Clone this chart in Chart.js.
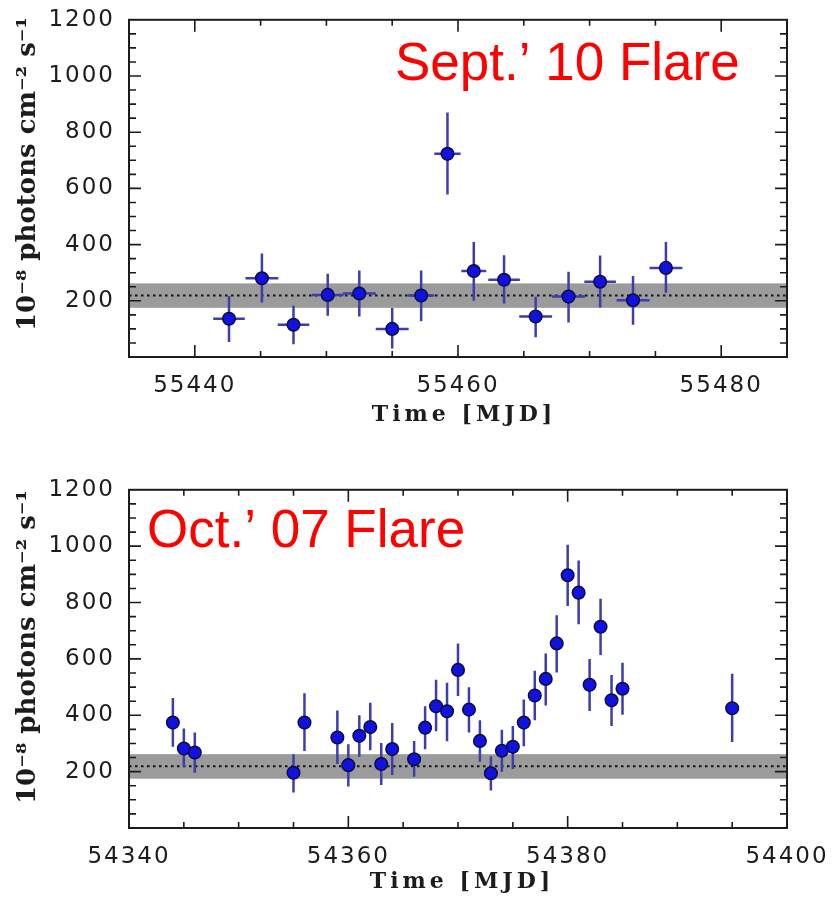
<!DOCTYPE html>
<html>
<head>
<meta charset="utf-8">
<title>Gamma-ray flare light curves</title>
<script src="https://cdn.jsdelivr.net/npm/chart.js@4.4.1/dist/chart.umd.min.js"></script>
<style>
  html, body { margin: 0; padding: 0; background: #fff; }
  #wrap { position: relative; width: 832px; height: 897px; overflow: hidden; }
  .panel { position: absolute; left: 0; width: 832px; }
  #panel-sep { top: 0; height: 440px; }
  #panel-oct { top: 470px; height: 427px; }
</style>
</head>
<body>
<div id="wrap">
  <div class="panel" id="panel-sep"><canvas id="chart-sep"></canvas></div>
  <div class="panel" id="panel-oct"><canvas id="chart-oct"></canvas></div>
</div>
<script>
'use strict';

/* ---- Sept. 2010 flare (binned): centre MJD, flux, error range, bin half-width ---- */
const SEP_MJD  = [55442.6, 55445.1, 55447.5, 55450.1, 55452.5, 55455.0, 55457.2, 55459.2,
                  55461.2, 55463.5, 55465.9, 55468.4, 55470.8, 55473.3, 55475.8];
const SEP_FLUX = [136, 280, 115, 221, 226, 100, 219, 723, 306, 275, 144, 215, 268, 202, 317];
const SEP_LO   = [53, 194, 45, 147, 144, 30, 127, 578, 200, 190, 70, 123, 176, 115, 229];
const SEP_HI   = [217, 368, 182, 296, 308, 174, 308, 870, 409, 362, 214, 303, 361, 288, 409];
const SEP_HALF = [1.2, 1.25, 1.2, 1.2, 1.25, 1.25, 1.0, 1.0, 0.95, 1.2, 1.25, 1.25, 1.2, 1.25, 1.25];
const SEP_X_TICKS = [55440, 55460, 55480];

/* ---- Oct. 2007 flare (daily) ---- */
const OCT_MJD  = [54344, 54345, 54346, 54355, 54356, 54359, 54360, 54361, 54362, 54363, 54364,
                  54366, 54367, 54368, 54369, 54370, 54371, 54372, 54373, 54374, 54375, 54376,
                  54377, 54378, 54379, 54380, 54381, 54382, 54383, 54384, 54385, 54395];
const OCT_FLUX = [374, 282, 268, 196, 374, 321, 223, 327, 358, 227, 280,
                  244, 356, 432, 414, 561, 420, 309, 194, 274, 288, 374,
                  470, 529, 655, 897, 835, 508, 714, 453, 494, 425];
const OCT_LO   = [288, 217, 196, 126, 273, 227, 147, 253, 276, 153, 188,
                  182, 279, 343, 308, 468, 339, 235, 133, 200, 209, 290,
                  382, 435, 552, 788, 723, 415, 614, 362, 402, 305];
const OCT_HI   = [461, 353, 339, 262, 478, 417, 297, 400, 444, 302, 373,
                  309, 432, 526, 515, 655, 499, 382, 255, 349, 362, 456,
                  558, 619, 755, 1005, 949, 600, 813, 543, 586, 547];
const OCT_X_TICKS = [54340, 54360, 54380, 54400];

/* quiescent level shared by both panels */
const QUIET_BAND = [175, 262];
const QUIET_MEAN = 219;
const Y_TICKS = [200, 400, 600, 800, 1000, 1200];

const INK = '#1c1c1c';
const POINT_FILL = '#1212e0';
const POINT_EDGE = '#0c0c40';
const ERR_COLOR = '#3d3dab';
const BAND_COLOR = '#9b9b9b';
const FLARE_RED = '#ff0000';

const TICK_FONT = { family: '"DejaVu Sans", sans-serif', size: 23 };
const TITLE_FONT = 'bold 22px "DejaVu Serif", serif';
const YTITLE_FONT = 'bold 26px "DejaVu Serif", serif';
const FLARE_FONT = '53px "Liberation Sans", Arial, sans-serif';

/* band, dotted mean, error bars, inward ticks, frame and annotations */
function lightCurvePlugin(d) {
  return {
    id: 'lightCurve',
    beforeDraw(chart) {
      chart.ctx.letterSpacing = '2px';
    },
    beforeDatasetsDraw(chart) {
      const { ctx, chartArea: a, scales: { x, y } } = chart;
      ctx.save();
      const yTop = y.getPixelForValue(QUIET_BAND[1]);
      const yBot = y.getPixelForValue(QUIET_BAND[0]);
      ctx.fillStyle = BAND_COLOR;
      ctx.fillRect(a.left, yTop, a.right - a.left, yBot - yTop);

      const ym = y.getPixelForValue(QUIET_MEAN);
      ctx.strokeStyle = '#111';
      ctx.lineWidth = 2;
      ctx.setLineDash([2.5, 3.5]);
      ctx.beginPath();
      ctx.moveTo(a.left, ym);
      ctx.lineTo(a.right, ym);
      ctx.stroke();
      ctx.setLineDash([]);

      ctx.strokeStyle = ERR_COLOR;
      ctx.lineWidth = 2.5;
      ctx.beginPath();
      d.mjd.forEach((t, i) => {
        const px = x.getPixelForValue(t);
        ctx.moveTo(px, y.getPixelForValue(d.lo[i]));
        ctx.lineTo(px, y.getPixelForValue(d.hi[i]));
        if (d.half) {
          const py = y.getPixelForValue(d.flux[i]);
          ctx.moveTo(x.getPixelForValue(t - d.half[i]), py);
          ctx.lineTo(x.getPixelForValue(t + d.half[i]), py);
        }
      });
      ctx.stroke();
      ctx.restore();
    },
    afterDraw(chart) {
      const { ctx, chartArea: a, scales: { x, y } } = chart;
      ctx.save();
      ctx.letterSpacing = '0px';

      // ticks point inward on all four sides
      ctx.strokeStyle = INK;
      ctx.lineWidth = 1.6;
      ctx.beginPath();
      for (let v = x.min + 5; v < x.max; v += 5) {
        const px = x.getPixelForValue(v);
        const len = v % 20 === 0 ? 12 : 6;
        ctx.moveTo(px, a.bottom); ctx.lineTo(px, a.bottom - len);
        ctx.moveTo(px, a.top); ctx.lineTo(px, a.top + len);
      }
      for (let v = 50; v < y.max; v += 50) {
        const py = y.getPixelForValue(v);
        const len = v % 200 === 0 ? 12 : 7;
        ctx.moveTo(a.left, py); ctx.lineTo(a.left + len, py);
        ctx.moveTo(a.right, py); ctx.lineTo(a.right - len, py);
      }
      ctx.stroke();

      ctx.lineWidth = 2;
      ctx.strokeRect(a.left, a.top, a.right - a.left, a.bottom - a.top);

      // axis titles
      ctx.fillStyle = INK;
      ctx.textAlign = 'center';
      ctx.textBaseline = 'middle';
      ctx.font = TITLE_FONT;
      ctx.letterSpacing = '4px';
      ctx.fillText('Time [MJD]', d.xTitle[0] + 2, d.xTitle[1]);
      ctx.letterSpacing = '0px';
      ctx.font = YTITLE_FONT;
      ctx.translate(d.yTitle[0], d.yTitle[1]);
      ctx.rotate(-Math.PI / 2);
      ctx.fillText('10⁻⁸ photons cm⁻² s⁻¹', 0, 0);
      ctx.setTransform(1, 0, 0, 1, 0, 0);

      // flare name
      ctx.fillStyle = FLARE_RED;
      ctx.font = FLARE_FONT;
      ctx.textAlign = 'left';
      ctx.textBaseline = 'alphabetic';
      ctx.fillText(d.name, d.namePos[0], d.namePos[1]);
      ctx.restore();
    },
  };
}

function lightCurveChart(canvasId, d) {
  return new Chart(document.getElementById(canvasId), {
    type: 'scatter',
    data: {
      datasets: [{
        data: d.mjd.map((t, i) => ({ x: t, y: d.flux[i] })),
        pointRadius: 6.3,
        pointHoverRadius: 6.3,
        pointBackgroundColor: POINT_FILL,
        pointBorderColor: POINT_EDGE,
        pointBorderWidth: 1.5,
      }],
    },
    options: {
      responsive: true,
      maintainAspectRatio: false,
      animation: false,
      events: [],
      layout: { padding: { top: d.padTop, right: 45, left: 0, bottom: 0 } },
      plugins: { legend: { display: false }, tooltip: { enabled: false } },
      scales: {
        x: {
          type: 'linear',
          min: d.xRange[0],
          max: d.xRange[1],
          grid: { display: false },
          border: { display: false },
          afterBuildTicks: (s) => { s.ticks = d.xTicks.map((v) => ({ value: v })); },
          afterFit: (s) => { s.height = d.xAxisHeight; },
          ticks: { font: TICK_FONT, color: INK, padding: 7, maxRotation: 0, callback: (v) => String(v) },
        },
        y: {
          min: 0,
          max: 1200,
          grid: { display: false },
          border: { display: false },
          afterBuildTicks: (s) => { s.ticks = Y_TICKS.map((v) => ({ value: v })); },
          afterFit: (s) => { s.width = 129; },
          ticks: { font: TICK_FONT, color: INK, padding: 6, callback: (v) => String(v) },
        },
      },
    },
    plugins: [lightCurvePlugin(d)],
  });
}

lightCurveChart('chart-sep', {
  mjd: SEP_MJD, flux: SEP_FLUX, lo: SEP_LO, hi: SEP_HI, half: SEP_HALF,
  xRange: [55435, 55485], xTicks: SEP_X_TICKS,
  padTop: 16, xAxisHeight: 83,
  xTitle: [462, 415], yTitle: [28, 174],
  name: 'Sept.\u2019 10 Flare', namePos: [395, 80],
});

lightCurveChart('chart-oct', {
  mjd: OCT_MJD, flux: OCT_FLUX, lo: OCT_LO, hi: OCT_HI, half: null,
  xRange: [54340, 54400], xTicks: OCT_X_TICKS,
  padTop: 17, xAxisHeight: 69,
  xTitle: [460, 412], yTitle: [28, 177],
  name: 'Oct.\u2019 07 Flare', namePos: [147, 77],
});
</script>
</body>
</html>
